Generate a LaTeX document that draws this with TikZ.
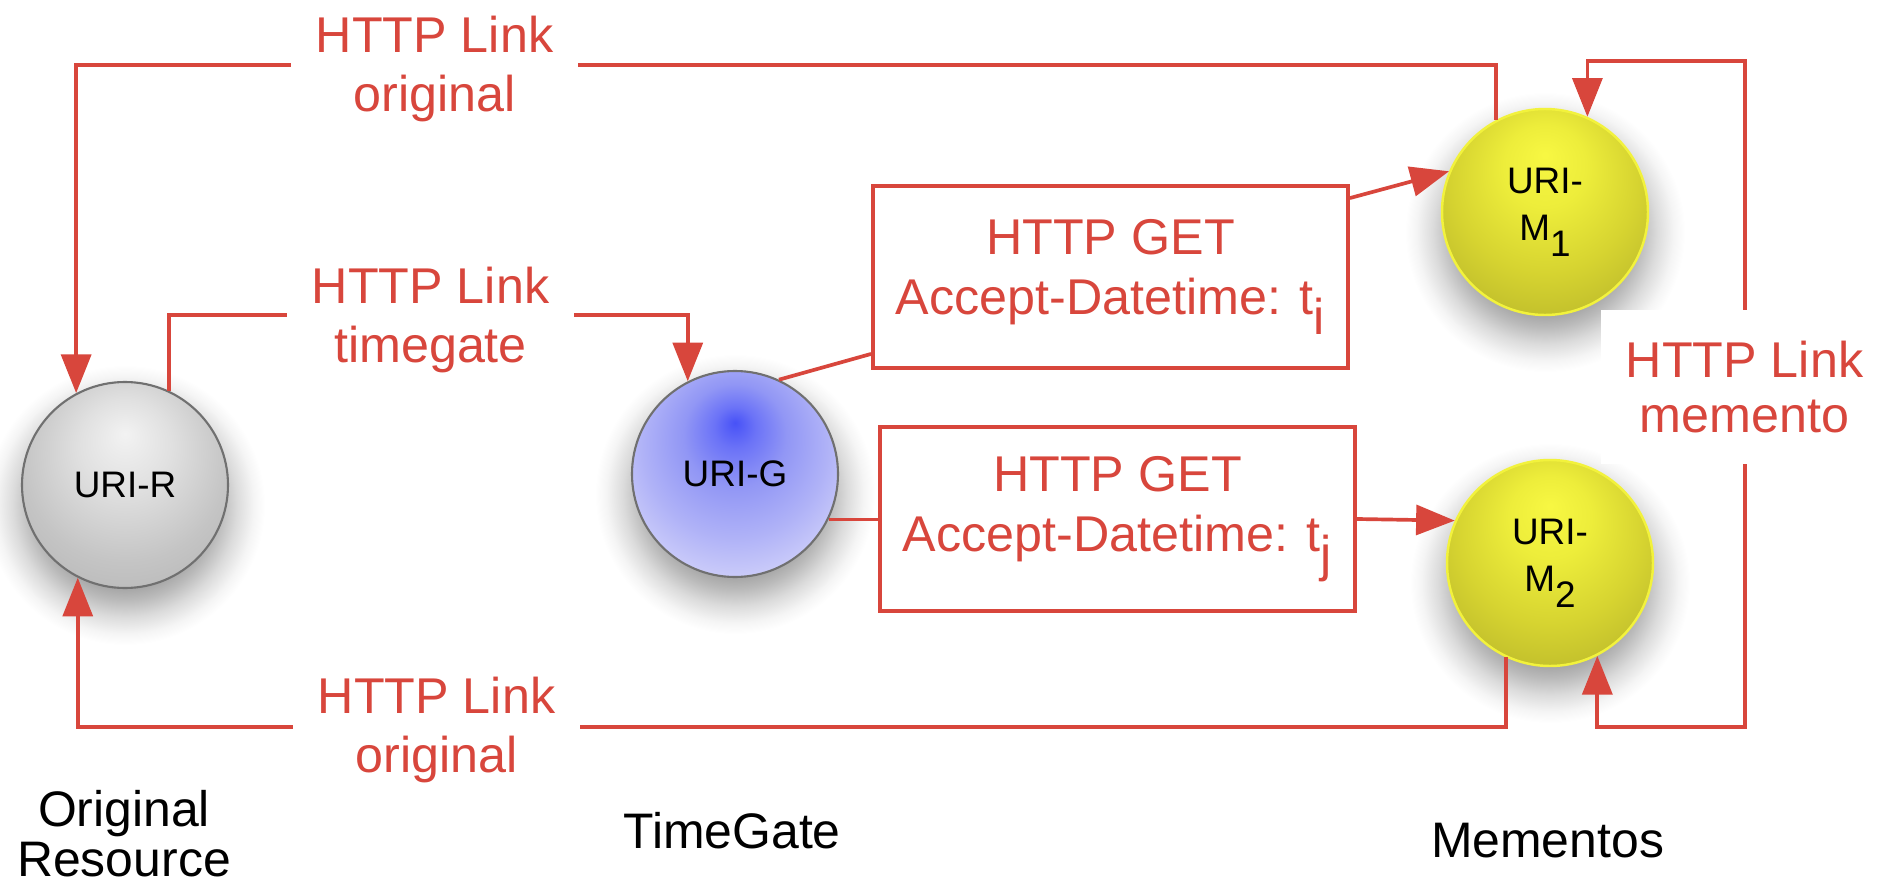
\documentclass[tikz,border=0pt]{standalone}
\usepackage{fontspec}
\setmainfont{Liberation Sans}
\usetikzlibrary{arrows.meta,calc}
\definecolor{lk}{RGB}{216,70,60}
\definecolor{rim}{RGB}{112,112,112}
\definecolor{yrim}{RGB}{242,242,60}
% radius of the shaded circle corresponds to 25bp
\pgfdeclareradialshading{shR}{\pgfpoint{0bp}{12.5bp}}{rgb(0bp)=(0.95,0.95,0.95);rgb(11bp)=(0.88,0.88,0.88);rgb(25bp)=(0.77,0.77,0.77);rgb(34bp)=(0.72,0.72,0.72);rgb(38bp)=(0.75,0.75,0.75);rgb(50bp)=(0.75,0.75,0.75)}
\pgfdeclareradialshading{shG}{\pgfpoint{0bp}{12.5bp}}{rgb(0bp)=(0.28,0.32,0.97);rgb(5bp)=(0.42,0.45,0.97);rgb(12.5bp)=(0.57,0.59,0.96);rgb(22.5bp)=(0.69,0.70,0.97);rgb(32.5bp)=(0.83,0.83,0.98);rgb(38bp)=(0.88,0.88,0.99);rgb(50bp)=(0.88,0.88,0.99)}
\pgfdeclareradialshading{shM}{\pgfpoint{0bp}{14bp}}{rgb(0bp)=(0.97,0.97,0.26);rgb(10bp)=(0.93,0.93,0.23);rgb(22.5bp)=(0.84,0.83,0.19);rgb(32.5bp)=(0.75,0.74,0.17);rgb(39bp)=(0.68,0.67,0.15);rgb(50bp)=(0.68,0.67,0.15)}
\pgfdeclareradialshading{shShadow}{\pgfpointorigin}{rgb(0bp)=(0.60,0.60,0.60);rgb(14bp)=(0.62,0.62,0.62);rgb(17bp)=(0.73,0.73,0.73);rgb(20bp)=(0.86,0.86,0.86);rgb(23bp)=(0.96,0.96,0.96);rgb(25bp)=(1,1,1);rgb(50bp)=(1,1,1)}
\tikzset{
  ball/.style={circle, minimum size=20.6mm, inner sep=0pt, align=center,
    font=\fontsize{10.5}{13.4}\selectfont},
  ballR/.style={ball, draw=rim, line width=0.6pt, shading=shR},
  ballG/.style={ball, draw=rim, line width=0.6pt, shading=shG},
  ballM/.style={ball, draw=yrim, line width=0.7pt, shading=shM},
  softshadow/.style={shading=shShadow},
  link/.style={draw=lk, line width=1.05pt},
  arrA/.style={-{Triangle[length=11pt,width=8.5pt]}},
  arrB/.style={{Triangle[length=11pt,width=8.5pt]}-{Triangle[length=11pt,width=8.5pt]}},
  lbl/.style={fill=white, text=lk, font=\fontsize{14.3}{17}\selectfont, align=center, inner xsep=7pt, inner ysep=8pt},
  getbox/.style={draw=lk, line width=1.1pt, fill=white, text=lk, font=\fontsize{14.3}{17}\selectfont, align=center, minimum width=47.5mm, inner sep=0pt},
  captxt/.style={font=\fontsize{14.2}{14.2}\selectfont, align=center, inner sep=0pt}
}
\begin{document}
\begin{tikzpicture}[x=0.1mm, y=-0.1mm]
\fill[white] (0,0) rectangle (1885,891);
\useasboundingbox (0,0) rectangle (1885,891);

% soft shadows below the balls
\shade[softshadow] (125,505) circle (140);
\shade[softshadow] (735,494) circle (140);
\shade[softshadow] (1545,232) circle (140);
\shade[softshadow] (1550,583) circle (140);

% circles
\node[ballR] (R) at (125,485) {URI-R};
\node[ballG] (G) at (735,474) {URI-G};
\node[ballM] (M1) at (1545,212) {URI-\\M\raisebox{-0.44em}{1}};
\node[ballM] (M2) at (1550,563) {URI-\\M\raisebox{-0.44em}{2}};

% request boxes
\node[getbox, minimum height=18.2mm] (b1) at (1110.5,277) {HTTP GET\\Accept-Datetime: t\raisebox{-0.4em}{i}};
\node[getbox, minimum height=18.4mm] (b2) at (1117.5,519) {HTTP GET\\Accept-Datetime: t\raisebox{-0.4em}{j}};

% helper coordinates
\coordinate (ytop) at (0,65);
\coordinate (ytg) at (0,315);
\coordinate (ybot) at (0,727);
\coordinate (ymem) at (0,61);
\coordinate (xmem) at (1745,0);

% connectors
\draw[link, arrA] (M1.118) -- (M1.118 |- ytop) -- (R.118 |- ytop) -- (R.118);
\draw[link, arrA] (R.65) -- (R.65 |- ytg) -- (G.117 |- ytg) -- (G.117);
\draw[link] (G.65) -- ($(b1.south west)+(0,-16)$);
\draw[link, arrA] ($(b1.north east)+(0,14)$) -- (M1.157);
\draw[link] (G.-26) -- (G.-26 -| b2.west);
\draw[link, arrA] (b2.east) -- (M2.156);
\draw[link, arrA] (M2.-115) -- (M2.-115 |- ybot) -- (R.-117 |- ybot) -- (R.-117);
\draw[link, arrB] (M1.66) -- (M1.66 |- ymem) -- (xmem |- ymem) -- (xmem |- ybot) -- (M2.-63 |- ybot) -- (M2.-63);

% link labels
\node[lbl] (l1) at (434.5,69) {HTTP Link\\original};
\node[lbl] (l2) at (430.5,320) {HTTP Link\\timegate};
\node[lbl] (l3) at (436.5,730) {HTTP Link\\original};
\node[lbl, inner ysep=9pt, font=\fontsize{14.3}{15.5}\selectfont] (l4) at (1744.5,387) {HTTP Link\\memento};

% captions
\node[captxt] (c1) at (124,834) {Original\\Resource};
\node[captxt, anchor=base] (c2) at (732,848) {TimeGate};
\node[captxt, anchor=base] (c3) at (1547.5,857) {Mementos};
\end{tikzpicture}
\end{document}
